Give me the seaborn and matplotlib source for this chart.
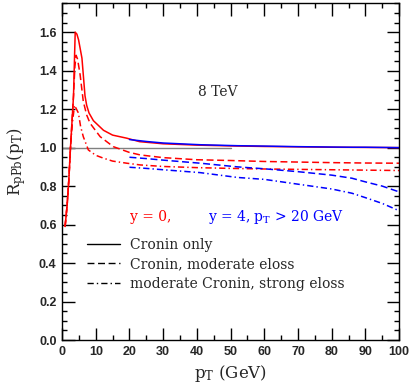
import matplotlib
matplotlib.use('Agg')
import matplotlib.pyplot as plt
from matplotlib.lines import Line2D
from matplotlib.ticker import MultipleLocator, FormatStrFormatter
import seaborn as sns
import pandas as pd

# y = 0 curves (red)
pt_red_solid = [0.9, 1.5, 2.0, 2.5, 3.0, 3.4, 3.7, 3.9, 4.4, 4.9, 5.9, 6.8, 7.3, 8.0, 9.3,
                12.3, 15, 19.2, 23, 30, 40, 50, 60, 70, 80, 90, 100]
r_red_solid = [0.59, 0.70, 0.83, 1.0, 1.15, 1.27, 1.47, 1.60, 1.59, 1.56, 1.465, 1.27, 1.22, 1.18, 1.14,
               1.09, 1.065, 1.049, 1.031, 1.02, 1.013, 1.009, 1.006, 1.004, 1.002, 1.001, 1.0]

pt_red_dash = [0.9, 1.5, 2.0, 2.5, 3.0, 3.4, 3.8, 4.16, 4.6, 5.35, 6.3, 7.3, 8.3, 11.3, 15.2,
               20, 23.2, 30, 40, 50, 60, 70, 80, 90, 100]
r_red_dash = [0.59, 0.70, 0.83, 1.0, 1.15, 1.27, 1.42, 1.48, 1.46, 1.38, 1.24, 1.17, 1.127, 1.057, 1.005,
              0.975, 0.962, 0.948, 0.937, 0.933, 0.928, 0.925, 0.922, 0.92, 0.919]

pt_red_dd = [0.9, 1.5, 2.0, 2.5, 3.0, 3.7, 4.85, 5.5, 6.3, 7.8, 10, 12.3, 15, 19.2, 23.2,
             30, 40, 50, 60, 70, 80, 90, 100]
r_red_dd = [0.59, 0.70, 0.83, 1.0, 1.12, 1.22, 1.18, 1.11, 1.057, 0.988, 0.96, 0.945, 0.93, 0.919, 0.91,
            0.902, 0.896, 0.892, 0.889, 0.887, 0.885, 0.883, 0.881]

# y = 4 curves (blue), pT > 20 GeV
pt_blue = [20, 25, 30, 41, 52, 60, 70, 80, 86, 90, 95, 100]
r_blue_solid = [1.042, 1.032, 1.024, 1.015, 1.01, 1.008, 1.005, 1.003, 1.002, 1.002, 1.001, 1.0]
r_blue_dash = [0.95, 0.943, 0.935, 0.919, 0.9, 0.89, 0.875, 0.857, 0.841, 0.822, 0.80, 0.77]
r_blue_dd = [0.898, 0.892, 0.885, 0.87, 0.845, 0.835, 0.81, 0.785, 0.763, 0.74, 0.71, 0.672]

pt_ref = [0, 50]
r_ref = [1.0, 1.0]

legend_labels = ['Cronin only', 'Cronin, moderate eloss', 'moderate Cronin, strong eloss']

sns.set_style('ticks')
plt.rcParams['font.family'] = ['DejaVu Serif']
plt.rcParams['mathtext.fontset'] = 'dejavuserif'
plt.rcParams['lines.scale_dashes'] = False

solid = '-'
dashed = (0, (5, 2.6))
dashdot = (0, (4.5, 2.2, 1.0, 2.2))

fig = plt.figure(figsize=(4.11, 3.87), dpi=100)
ax = fig.add_axes([0.151, 0.1214, 0.820, 0.870])

sns.lineplot(x=pt_ref, y=r_ref, color='#808080', lw=1.0, ax=ax)
curves = [
    (pt_red_solid, r_red_solid, 'red', solid),
    (pt_red_dash, r_red_dash, 'red', dashed),
    (pt_red_dd, r_red_dd, 'red', dashdot),
    (pt_blue, r_blue_solid, 'blue', solid),
    (pt_blue, r_blue_dash, 'blue', dashed),
    (pt_blue, r_blue_dd, 'blue', dashdot),
]
for xs, ys, c, ls in curves:
    df = pd.DataFrame({'pt': xs, 'r': ys})
    sns.lineplot(data=df, x='pt', y='r', color=c, lw=1.1, linestyle=ls, sort=False,
                 estimator=None, ax=ax)

ax.set_xlim(0, 100)
ax.set_ylim(0, 1.75)
ax.xaxis.set_major_locator(MultipleLocator(10))
ax.xaxis.set_minor_locator(MultipleLocator(5))
ax.yaxis.set_major_locator(MultipleLocator(0.2))
ax.yaxis.set_minor_locator(MultipleLocator(0.05))
ax.yaxis.set_major_formatter(FormatStrFormatter('%.1f'))
ax.tick_params(which='both', direction='in', top=True, right=True, color='black', width=1.0)
ax.tick_params(which='major', length=9, pad=4)
ax.tick_params(which='minor', length=3.6)
for lab in ax.get_xticklabels() + ax.get_yticklabels():
    lab.set_fontfamily('Liberation Sans')
    lab.set_fontweight('bold')
    lab.set_fontsize(9)
for sp in ax.spines.values():
    sp.set_visible(True)
    sp.set_color('black')
    sp.set_linewidth(1.0)

ax.set_xlabel(r'$\mathrm{p_T}$ (GeV)', fontsize=12)
ax.set_ylabel(r'$\mathrm{R_{pPb}(p_T)}$', fontsize=12)
ax.yaxis.set_label_coords(-0.1, 0.53)
ax.xaxis.set_label_coords(0.5, -0.068)

fs = 10
ax.text(40.4, 1.29, '8 TeV', fontsize=fs, va='center', ha='left')
ax.text(20.2, 0.64, 'y = 0,', color='red', fontsize=fs, va='center', ha='left')
ax.text(43.4, 0.64, r'y = 4, $\mathrm{p_T}$ > 20 GeV', color='blue', fontsize=fs,
        va='center', ha='left')

handles = [Line2D([], [], color='black', lw=1.0, linestyle=s) for s in (solid, dashed, dashdot)]
ax.legend(handles, legend_labels, loc='upper left', bbox_to_anchor=(0.074, 0.303),
          frameon=False, fontsize=fs, handlelength=2.4, handletextpad=0.72,
          labelspacing=0.38, borderpad=0, borderaxespad=0)

fig.savefig('out.png', dpi=100)
